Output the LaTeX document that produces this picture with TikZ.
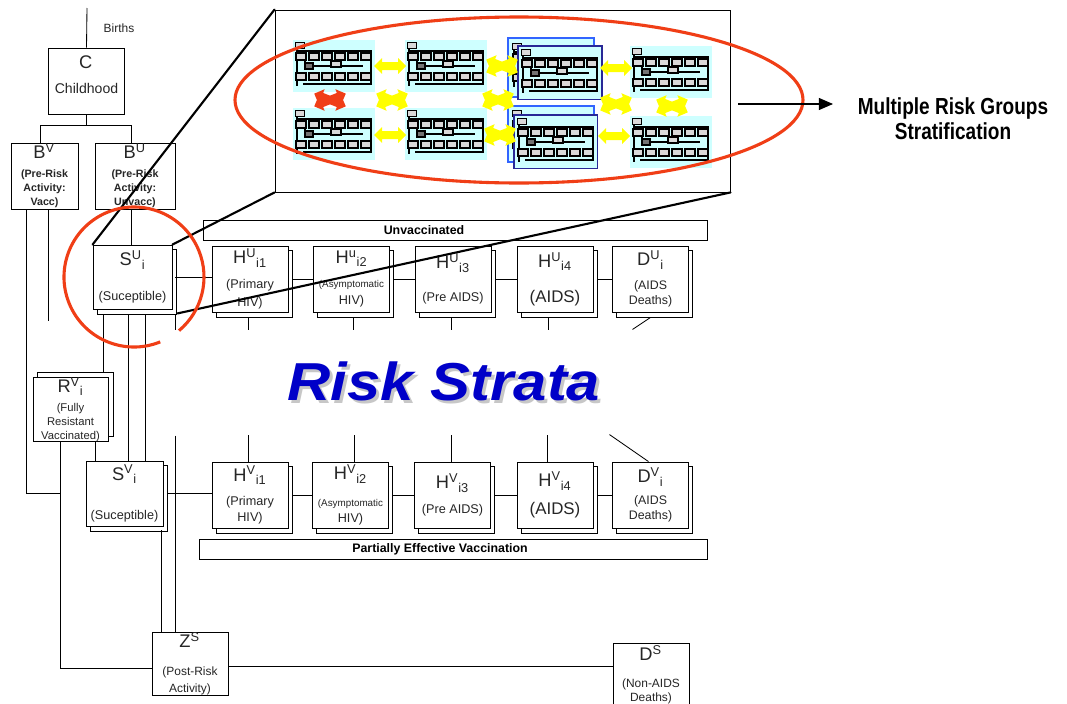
\documentclass[tikz,border=0pt]{standalone}
\usepackage{fontspec}
\setmainfont{Liberation Sans}
\newfontfamily\condensedfont[FakeStretch=0.82]{Liberation Sans}
\newfontfamily\widefont[FakeStretch=1.12]{Liberation Sans}
\usetikzlibrary{shadows,arrows.meta}
\definecolor{markred}{RGB}{240,62,22}
\definecolor{stratablue}{RGB}{0,0,200}
\definecolor{plancyan}{RGB}{206,255,255}
\definecolor{arrowyellow}{RGB}{255,255,0}
\definecolor{stackblue}{RGB}{50,100,255}
\definecolor{stacknavy}{RGB}{40,40,150}
\colorlet{boxtext}{black!85}
\tikzstyle{comp}=[draw, fill=white, line width=0.6pt, align=center, inner sep=0pt, minimum width=1.9cm, minimum height=1.65cm, text=boxtext, font=\fontsize{9}{12.5}\selectfont]
\tikzstyle{stack}=[comp, copy shadow={shadow xshift=2.8pt, shadow yshift=-3.5pt, draw=black, fill=white, line width=0.6pt}]
\tikzstyle{stackup}=[comp, copy shadow={shadow xshift=3.5pt, shadow yshift=3.5pt, draw=black, fill=white, line width=0.6pt}]
\tikzstyle{link}=[line width=0.6pt]
\tikzstyle{zoomline}=[line width=1.5pt, line cap=round]
\tikzstyle{redmark}=[markred, line width=2.2pt]
\tikzstyle{bar}=[draw, line width=0.6pt, minimum height=0.5cm, inner sep=0pt]
\tikzstyle{bartext}=[font=\fontsize{8.8}{10}\selectfont\bfseries]
\newcommand{\compsym}[3]{{\fontsize{13}{14}\selectfont\mdseries #1\textsuperscript{#2}\textsubscript{#3}}}
\tikzset{
  % one small copy of the compartment model
  riskplan/.pic={
    \fill[plancyan] (0,0) rectangle (82,52);
    \draw[line width=0.8pt] (4,9) -- (4,46) (4,11) -- (78,11) -- (78,44) -- (10,44);
    \draw[line width=0.7pt, fill=black!15] (2,2) rectangle (11,8);
    \foreach \k in {0,...,5} {
      \draw[line width=1pt, fill=black!15] (3+13*\k,13) rectangle (13+13*\k,20);
      \draw[line width=1pt, fill=black!15] (3+13*\k,33) rectangle (13+13*\k,40);
    }
    \draw[line width=0.8pt] (12,20) -- (12,23) (20,26) -- (70,26) (43,20) -- (43,22);
    \draw[line width=0.8pt, fill=black!55] (12,23) rectangle (20,29);
    \draw[line width=0.8pt, fill=black!15] (38,21) rectangle (48,27);
  },
  tradearrow/.pic={
    \fill (-16,0) -- (-8,-8) -- (-8,-4) -- (8,-4) -- (8,-8) -- (16,0) -- (8,8) -- (8,4) -- (-8,4) -- (-8,8) -- cycle;
  },
  tradecross/.pic={
    \foreach \a in {22,-22}
      \fill[rotate=\a] (-17,0) -- (-9,-8) -- (-9,-4) -- (9,-4) -- (9,-8) -- (17,0) -- (9,8) -- (9,4) -- (-9,4) -- (-9,8) -- cycle;
  }
}

\begin{document}
\begin{tikzpicture}[x=0.025cm, y=-0.025cm]
  \useasboundingbox (0,0) rectangle (1067,704);
  \fill[white] (0,0) rectangle (1067,704);
  \clip (0,0) rectangle (1067,704);

  % entry and pre-risk compartments
  \node[comp, font=\fontsize{10}{12}\selectfont] (C) at (86.5,81) {\compsym{C}{}{}\\[6pt]Childhood\\[-3pt]\mbox{}};
  \node[comp, minimum width=1.675cm, font=\fontsize{7.6}{10}\selectfont\bfseries] (BV) at (44.5,176)
    {\compsym{B}{V}{}\\[3.5pt](Pre-Risk\\Activity:\\Vacc)};
  \node[comp, minimum width=2cm, font=\fontsize{7.6}{10}\selectfont\bfseries] (BU) at (135,176)
    {\compsym{B}{U}{}\\[3.5pt](Pre-Risk\\Activity:\\Unvacc)};
  \node[font=\fontsize{8.5}{10}\selectfont, text=boxtext] (births-label) at (119,28) {Births};
  \coordinate (births) at (87,8);

  % unvaccinated stratum
  \node[bar, minimum width=12.6cm] (unvac) at (455,230) {};
  \node[bartext] (unvac-label) at (424,230) {Unvaccinated};
  \node[stack, minimum width=1.975cm, minimum height=1.6cm] (SU) at (132.5,277) {\compsym{S}{U}{i}\\[12.3pt](Suceptible)};
  \node[stack] (HU1) at (250,279) {\compsym{H}{U}{i1}\\[5.2pt](Primary\\HIV)};
  \node[stack] (HU2) at (351.5,279) {\compsym{H}{u}{i2}\\[4.5pt]{\fontsize{7}{9}\selectfont(Asymptomatic}\\HIV)};
  \node[stack] (HU3) at (453,279) {\compsym{H}{U}{i3}\\[11pt](Pre AIDS)};
  \node[stack] (HU4) at (555,279) {\compsym{H}{U}{i4}\\[12.5pt]{\fontsize{12}{14}\selectfont(AIDS)}};
  \node[stack, font=\fontsize{8.8}{10.6}\selectfont] (DU) at (650.5,279) {\compsym{D}{U}{i}\\[6.5pt](AIDS\\Deaths)};

  % vaccinated stratum
  \node[stackup, minimum width=1.875cm, minimum height=1.575cm, font=\fontsize{8}{9.8}\selectfont] (RV) at (70.5,409.5)
    {\compsym{R}{V}{i}\\[4pt](Fully\\Resistant\\Vaccinated)};
  \node[stack, minimum width=1.925cm, minimum height=1.625cm] (SV) at (124.5,493.5) {\compsym{S}{V}{i}\\[15.3pt](Suceptible)};
  \node[stack, font=\fontsize{9}{11.5}\selectfont] (HV1) at (250,495) {\compsym{H}{V}{i1}\\[5.5pt](Primary\\HIV)};
  \node[stack, font=\fontsize{9}{11.5}\selectfont] (HV2) at (350.5,495) {\compsym{H}{V}{i2}\\[7.5pt]{\fontsize{7}{9}\selectfont(Asymptomatic}\\HIV)};
  \node[stack, font=\fontsize{9}{11.5}\selectfont] (HV3) at (452.5,495) {\compsym{H}{V}{i3}\\[6.2pt](Pre AIDS)};
  \node[stack, font=\fontsize{9}{11.5}\selectfont] (HV4) at (555,495) {\compsym{H}{V}{i4}\\[8.5pt]{\fontsize{12}{14}\selectfont(AIDS)}};
  \node[stack, font=\fontsize{8.8}{10.6}\selectfont] (DV) at (650.5,495) {\compsym{D}{V}{i}\\[5.2pt](AIDS\\Deaths)};
  \node[bar, minimum width=12.7cm] (partial) at (453,549) {};
  \node[bartext] (partial-label) at (440,549) {Partially Effective Vaccination};

  % post-risk and background deaths
  \node[comp, minimum height=1.575cm, font=\fontsize{8.5}{12}\selectfont] (ZS) at (190,663.5) {\compsym{Z}{S}{}\\[7.8pt](Post-Risk\\Activity)};
  \node[comp, minimum height=1.75cm, font=\fontsize{8.5}{10.2}\selectfont] (DS) at (651,678) {\compsym{D}{S}{}\\[9pt](Non-AIDS\\Deaths)\\[-4pt]\mbox{}};
  \coordinate (vjoin) at (60,493);

  % flows on the left
  \draw[link] (births) -- (C.north);
  \draw[link] (C.south) -- ++(0,11) -| ([xshift=-3.2pt]BV.north);
  \draw[link] (C.south) -- ++(0,11) -| ([xshift=-2.8pt]BU.north);
  \draw[link] ([xshift=-13.1pt]BV.south) |- (vjoin);
  \draw[link] ([xshift=2.5pt]BV.south) -- ++(0,112);
  \draw[link] ([xshift=-2.8pt]BU.south) -- ([xshift=-2.8pt]BU.south |- SU.north);
  \draw[link] ([shift={(-29.5,6)}]SU.south) -- ([shift={(-29.5,-5)}]SU.south |- RV.north);
  \draw[link] ([shift={(-4.5,6)}]SU.south) -- ([shift={(-4.5,0)}]SU.south |- SV.north);
  \draw[link] ([shift={(12.5,6)}]SU.south) -- ([shift={(12.5,0)}]SU.south |- SV.north);
  \draw[link] ([shift={(3,6)}]SU.south east) -- ++(0,15);
  \draw[link] ([xshift=18pt]RV.south) -- ([xshift=18pt]RV.south |- SV.north);
  \draw[link] ([xshift=-7.4pt]RV.south) |- ([yshift=-3.2pt]ZS.west);
  \draw[link] ([shift={(-15,-196)}]ZS.north) -- ([shift={(-15,0)}]ZS.north);
  \draw[link] ([shift={(36.5,4)}]SV.south) -- ([shift={(36.5,0)}]SV.south |- ZS.north);
  \draw[link] ([yshift=-1.8pt]ZS.east) -- ([yshift=-1.8pt]ZS.east -| DS.west);

  % progression chains
  \draw[link] ([xshift=2.1pt]SU.east) -- (SU.east -| HU1.west);
  \foreach \a/\b in {HU1/HU2,HU2/HU3,HU3/HU4,HU4/DU}
    \draw[link] ([xshift=2.8pt]\a.east) -- (\b.west);
  \draw[link] ([xshift=2.8pt]SV.east) -- (SV.east -| HV1.west);
  \foreach \a/\b in {HV1/HV2,HV2/HV3,HV3/HV4,HV4/DV}
    \draw[link] ([xshift=2.8pt]\a.east) -- (\b.west);
  \foreach \n/\dx in {HU1/-2,HU2/1.5,HU3/-2,HU4/-7}
    \draw[link] ([shift={(\dx,6)}]\n.south) -- ++(0,12);
  \draw[link] ([shift={(0,5)}]DU.south) -- ++(-18,12);
  \foreach \n/\dx in {HV1/-2,HV2/3.5,HV3/-1.5,HV4/-8}
    \draw[link] ([shift={(\dx,0)}]\n.north) -- ++(0,-27);
  \draw[link] ([shift={(-2,0)}]DV.north) -- ++(-39,-27);

  \node[font=\widefont\fontsize{38}{40}\selectfont\bfseries\itshape, text=black!22, anchor=base] (strata-shadow) at (447,403) {Risk Strata};
  \node[font=\widefont\fontsize{38}{40}\selectfont\bfseries\itshape, text=stratablue, anchor=base] (strata) at (444,400) {Risk Strata};

  % magnified view of the stratified groups
  \node[draw, line width=0.6pt, minimum width=11.375cm, minimum height=4.55cm, inner sep=0pt] (inset) at (502.5,101) {};
  \pic at (293,40) {riskplan};
  \pic at (405,40) {riskplan};
  \pic at (630,46) {riskplan};
  \pic at (293,108) {riskplan};
  \pic at (405,108) {riskplan};
  \pic at (630,116) {riskplan};
  \filldraw[fill=plancyan, draw=stackblue, line width=1.2pt] (508,38) rectangle (594,97);
  \pic at (510,41) {riskplan};
  \filldraw[fill=plancyan, draw=stacknavy, line width=0.9pt] (518,46) rectangle (602,99);
  \pic at (519,47) {riskplan};
  \filldraw[fill=plancyan, draw=stackblue, line width=1.2pt] (508,106) rectangle (594,162);
  \pic at (510,108) {riskplan};
  \filldraw[fill=plancyan, draw=stacknavy, line width=0.9pt] (514,115) rectangle (597,168);
  \pic at (515,116) {riskplan};

  \pic[arrowyellow] at (390,66) {tradearrow};
  \pic[arrowyellow] at (616,68) {tradearrow};
  \pic[arrowyellow] at (390,135) {tradearrow};
  \pic[arrowyellow] at (614,136) {tradearrow};
  \pic[arrowyellow] at (502,66) {tradecross};
  \pic[arrowyellow] at (392,100) {tradecross};
  \pic[arrowyellow] at (498,100) {tradecross};
  \pic[arrowyellow] at (616,104) {tradecross};
  \begin{scope}[shift={(500,135)}, scale=0.7]
    \pic[arrowyellow] {tradecross};
  \end{scope}
  \begin{scope}[shift={(672,106)}, scale=0.7, rotate=90]
    \pic[arrowyellow] {tradecross};
  \end{scope}
  \begin{scope}[shift={(330,100)}, scale=0.7, rotate=90]
    \pic[markred] {tradecross};
  \end{scope}
  \draw[redmark] (519,100) ellipse[x radius=284, y radius=83];

  \coordinate (arrowtail) at (738,104);
  \draw[line width=0.8pt, -{Triangle[length=10pt, width=8.5pt]}] (arrowtail) -- ++(95,0);
  \node[font=\condensedfont\fontsize{16.5}{17.7}\selectfont\bfseries, align=center] (strat) at (953,119) {Multiple Risk Groups\\Stratification};

  % zoom lines and highlight
  \draw[zoomline] (SU.north west) -- (inset.north west);
  \draw[zoomline] (SU.north east) -- (inset.south west);
  \draw[zoomline] ([shift={(5,4)}]SU.south east) -- (inset.south east);
  \draw[redmark] (134,277) ++(68:70) arc[start angle=68, end angle=410, radius=70];
\end{tikzpicture}
\end{document}
